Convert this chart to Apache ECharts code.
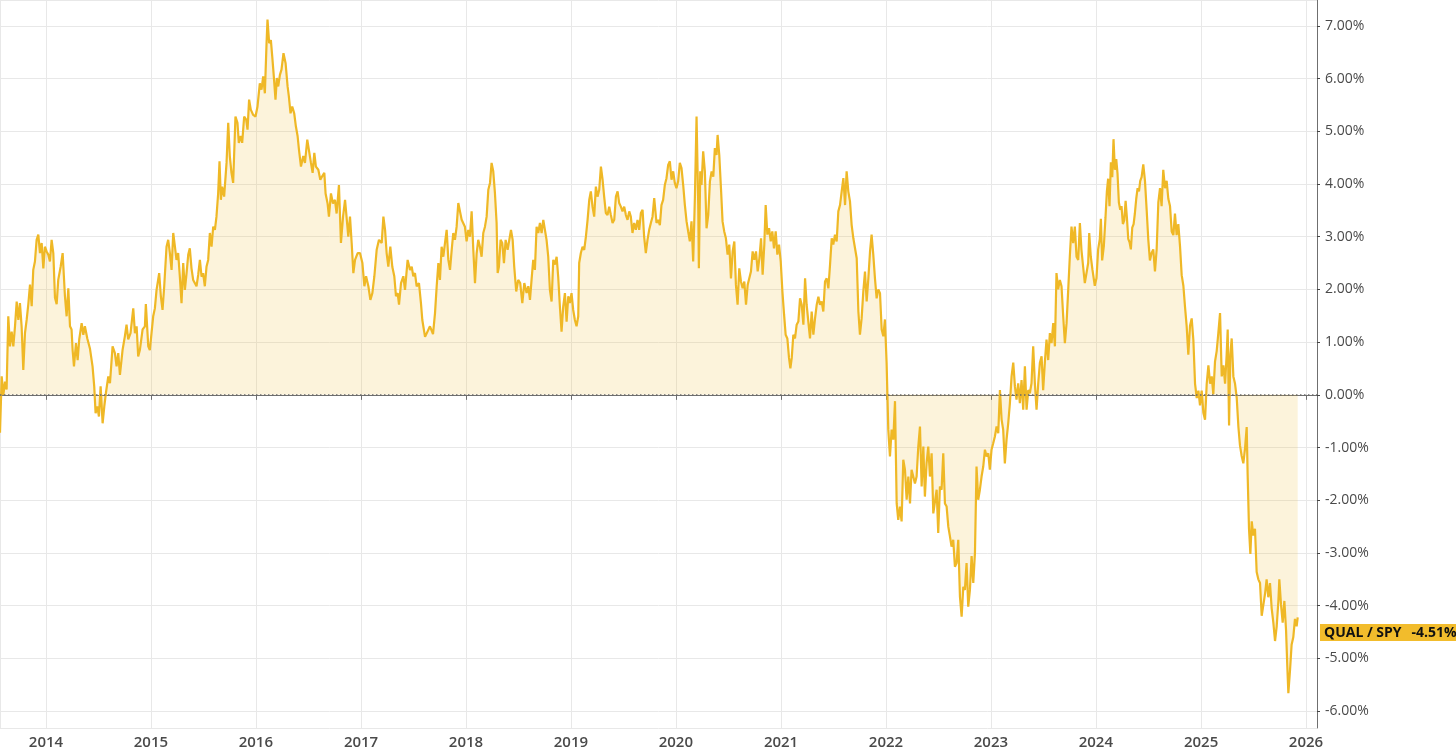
<!DOCTYPE html>
<html>
<head>
<meta charset="utf-8">
<script src="https://cdn.jsdelivr.net/npm/echarts@6/dist/echarts.min.js"></script>
<style>
html,body{margin:0;padding:0;background:#fff;}
#chart{width:1456px;height:753px;}
</style>
</head>
<body>
<div id="chart"></div>
<script>
// Visible time window (decimal years)
const xStartYear = 2013.562;
const xEndYear = 2026.105;
// Y axis range (percent)
const yMin = -6.32;
const yMax = 7.49;
const seriesName = 'QUAL / SPY';
const latestValue = -4.51;

// [decimal year, relative performance %]
const qualVsSpy = [
[2013.562,-0.72],[2013.578,0.35],[2013.594,0.00],[2013.610,0.25],[2013.625,0.10],[2013.641,1.49],[2013.657,0.92],[2013.673,1.20],[2013.689,0.92],[2013.705,1.30],[2013.721,1.77],[2013.737,1.42],[2013.752,1.74],[2013.768,1.30],[2013.784,0.47],[2013.800,1.17],[2013.816,1.42],[2013.832,1.72],[2013.848,2.09],[2013.864,1.68],[2013.879,2.37],[2013.895,2.53],[2013.911,2.94],[2013.927,3.04],[2013.943,2.69],[2013.959,2.88],[2013.975,2.40],[2013.990,2.81],
[2014.006,2.72],[2014.022,2.66],[2014.038,2.53],[2014.054,2.94],[2014.070,2.69],[2014.086,1.84],[2014.102,1.72],[2014.117,2.18],[2014.140,2.43],[2014.159,2.69],[2014.181,1.87],[2014.197,1.49],[2014.213,2.02],[2014.229,1.30],[2014.244,1.24],[2014.254,0.85],[2014.267,0.54],[2014.286,0.98],[2014.302,0.66],[2014.317,1.05],[2014.340,1.36],[2014.356,1.14],[2014.371,1.30],[2014.394,1.07],[2014.419,0.88],[2014.444,0.54],[2014.460,0.16],[2014.473,-0.35],[2014.489,-0.22],[2014.505,-0.41],[2014.521,0.16],[2014.540,-0.54],[2014.556,-0.22],[2014.571,0.03],[2014.594,0.35],[2014.610,0.22],[2014.635,0.92],[2014.657,0.79],[2014.673,0.54],[2014.689,0.79],[2014.705,0.38],[2014.730,0.85],[2014.752,1.11],[2014.768,1.33],[2014.784,1.05],[2014.806,1.17],[2014.832,1.64],[2014.848,1.17],[2014.864,1.30],[2014.879,0.73],[2014.895,0.85],[2014.921,1.24],[2014.943,1.30],[2014.952,1.72],[2014.975,0.92],[2014.990,0.85],
[2015.006,1.17],[2015.022,1.49],[2015.038,1.64],[2015.054,1.99],[2015.079,2.31],[2015.095,1.87],[2015.111,1.61],[2015.127,2.06],[2015.149,2.81],[2015.165,2.94],[2015.181,2.69],[2015.197,2.37],[2015.213,3.07],[2015.229,2.81],[2015.244,2.56],[2015.260,2.69],[2015.276,2.24],[2015.292,1.74],[2015.308,2.50],[2015.324,1.99],[2015.340,2.31],[2015.356,2.66],[2015.371,2.78],[2015.387,2.40],[2015.403,2.18],[2015.419,2.21],[2015.435,2.06],[2015.451,2.28],[2015.467,2.56],[2015.483,2.24],[2015.498,2.31],[2015.514,2.06],[2015.530,2.43],[2015.546,2.56],[2015.562,3.07],[2015.578,2.81],[2015.594,3.19],
[2015.610,3.13],[2015.625,3.38],[2015.641,3.82],[2015.654,4.43],[2015.667,3.70],[2015.679,3.95],[2015.698,3.76],[2015.721,4.40],[2015.737,5.16],[2015.752,4.53],[2015.768,4.21],[2015.784,4.02],[2015.806,5.28],[2015.825,5.16],[2015.838,4.78],[2015.857,4.91],[2015.870,4.78],[2015.889,5.28],[2015.908,5.22],[2015.921,5.03],[2015.936,5.60],[2015.952,5.41],[2015.975,5.31],[2015.997,5.28],
[2016.016,5.47],[2016.038,5.91],[2016.054,5.79],[2016.070,6.04],[2016.086,5.72],[2016.102,6.67],[2016.111,7.12],[2016.127,6.67],[2016.143,6.73],[2016.156,6.42],[2016.171,6.04],[2016.187,5.60],[2016.200,6.01],[2016.213,5.85],[2016.229,6.07],[2016.244,6.17],[2016.263,6.48],[2016.283,6.29],[2016.302,5.85],[2016.314,5.66],[2016.330,5.34],[2016.346,5.47],[2016.365,5.34],[2016.381,5.09],[2016.397,4.91],[2016.410,4.65],[2016.429,4.33],[2016.451,4.53],[2016.467,4.40],[2016.489,4.84],[2016.508,4.84],[2016.524,4.40],[2016.540,4.21],[2016.556,4.59],[2016.571,4.33],[2016.594,4.27],[2016.613,4.08],[2016.632,4.15],[2016.651,4.21],[2016.663,3.82],[2016.682,3.63],[2016.695,3.38],[2016.714,3.82],[2016.733,3.63],[2016.752,3.70],[2016.768,3.44],[2016.790,3.98],[2016.809,2.88],[2016.829,3.38],[2016.848,3.70],[2016.867,3.70],[2016.879,3.00],[2016.895,3.38],[2016.911,2.88],[2016.927,2.31],[2016.943,2.56],[2016.968,2.69],[2016.990,2.69],
[2017.013,2.50],[2017.032,2.06],[2017.048,2.25],[2017.070,2.06],[2017.089,1.80],[2017.108,1.93],[2017.127,2.25],[2017.149,2.75],[2017.171,2.94],[2017.197,2.88],[2017.213,3.38],[2017.229,3.13],[2017.244,2.69],[2017.260,2.43],[2017.279,2.81],[2017.298,2.43],[2017.317,2.25],[2017.333,1.87],[2017.349,1.93],[2017.362,1.71],[2017.381,2.12],[2017.403,2.25],[2017.419,1.99],[2017.444,2.56],[2017.467,2.37],[2017.483,2.43],[2017.498,2.25],[2017.514,2.31],[2017.530,2.06],[2017.552,2.12],[2017.571,1.74],[2017.584,1.42],[2017.610,1.10],[2017.657,1.30],[2017.686,1.15],
[2017.705,1.55],[2017.721,2.06],[2017.737,2.50],[2017.752,2.18],[2017.768,2.81],[2017.784,2.62],[2017.800,2.88],[2017.816,3.13],[2017.832,2.56],[2017.848,2.37],[2017.864,2.75],[2017.879,3.07],[2017.895,2.94],[2017.911,3.19],[2017.927,3.64],[2017.943,3.48],[2017.959,3.32],[2017.975,3.35],[2017.990,3.19],
[2018.006,2.91],[2018.022,3.13],[2018.038,3.00],[2018.054,3.48],[2018.070,2.75],[2018.086,2.12],[2018.102,2.69],[2018.117,2.94],[2018.133,2.81],[2018.149,2.62],[2018.165,3.07],[2018.181,3.19],[2018.197,3.38],[2018.213,3.89],[2018.229,4.02],[2018.244,4.40],[2018.260,4.24],[2018.276,3.83],[2018.292,3.26],[2018.302,2.31],[2018.314,2.43],[2018.330,2.94],[2018.346,2.88],[2018.362,2.50],[2018.378,2.94],[2018.397,2.75],[2018.413,2.94],[2018.429,3.13],[2018.445,2.94],[2018.460,2.43],[2018.479,1.96],[2018.498,2.18],[2018.517,2.12],[2018.537,1.74],[2018.556,2.12],[2018.578,1.93],[2018.594,2.06],[2018.610,1.80],[2018.625,2.18],[2018.641,2.56],[2018.657,2.37],[2018.673,3.19],[2018.689,3.07],[2018.705,3.26],[2018.721,3.07],[2018.737,3.32],[2018.752,3.32],[2018.768,2.94],[2018.784,2.62],[2018.800,1.99],[2018.816,1.77],[2018.832,2.56],[2018.848,2.47],[2018.864,2.62],[2018.879,2.24],[2018.895,1.68],[2018.911,1.20],[2018.927,1.68],[2018.943,1.93],[2018.959,1.39],[2018.975,1.87],[2018.990,1.74],
[2019.006,1.93],[2019.022,1.61],[2019.038,1.42],[2019.054,1.30],[2019.070,1.49],[2019.079,2.50],[2019.095,2.69],[2019.111,2.81],[2019.127,2.75],[2019.143,3.00],[2019.159,3.32],[2019.175,3.70],[2019.190,3.86],[2019.206,3.57],[2019.222,3.38],[2019.238,3.95],[2019.254,3.76],[2019.270,3.89],[2019.286,4.33],[2019.302,4.08],[2019.317,3.76],[2019.333,3.45],[2019.349,3.41],[2019.365,3.57],[2019.381,3.41],[2019.397,3.26],[2019.413,3.32],[2019.429,3.76],[2019.445,3.86],[2019.460,3.64],[2019.476,3.57],[2019.492,3.48],[2019.508,3.57],[2019.524,3.41],[2019.540,3.32],[2019.556,3.48],[2019.571,3.38],[2019.587,3.07],[2019.603,3.26],[2019.619,3.13],[2019.635,3.32],[2019.651,3.13],[2019.667,3.45],[2019.683,3.51],[2019.698,3.00],[2019.714,2.69],[2019.730,2.94],[2019.746,3.13],[2019.762,3.26],[2019.778,3.38],[2019.794,3.73],
[2019.816,3.26],[2019.832,3.32],[2019.848,3.22],[2019.863,3.60],[2019.879,3.70],[2019.895,3.98],[2019.911,4.11],[2019.927,4.36],[2019.943,4.43],[2019.959,4.08],[2019.975,4.24],[2019.990,4.02],
[2020.006,3.92],[2020.022,4.05],[2020.038,4.40],[2020.054,4.30],[2020.070,3.98],[2020.086,3.60],[2020.102,3.29],[2020.117,3.10],[2020.133,2.91],[2020.149,3.29],[2020.165,2.53],[2020.181,3.73],[2020.197,5.28],[2020.213,3.60],[2020.219,2.40],[2020.232,4.24],[2020.244,3.98],[2020.260,4.62],[2020.276,4.24],[2020.292,3.16],[2020.308,3.41],[2020.324,4.05],[2020.340,4.24],[2020.356,4.14],[2020.371,4.68],[2020.387,4.55],[2020.397,4.93],[2020.413,4.55],[2020.429,3.92],[2020.444,3.29],[2020.460,3.10],[2020.476,2.97],[2020.492,2.66],[2020.508,2.85],[2020.524,2.21],[2020.540,2.72],[2020.556,2.91],[2020.571,2.09],[2020.587,1.71],[2020.603,2.40],[2020.619,2.15],[2020.635,2.02],[2020.651,2.15],[2020.667,1.71],[2020.683,2.09],[2020.698,2.06],[2020.714,2.34],[2020.730,2.72],[2020.746,2.56],[2020.762,2.72],[2020.778,2.34],[2020.794,2.59],[2020.810,2.97],[2020.825,2.28],[2020.841,2.85],[2020.854,3.60],[2020.870,3.04],[2020.886,3.16],[2020.902,2.91],[2020.917,3.10],[2020.933,2.78],[2020.949,3.10],[2020.965,2.66],[2020.981,2.85],[2020.997,2.53],
[2021.013,1.96],[2021.029,1.52],[2021.044,1.14],[2021.060,1.07],[2021.076,0.70],[2021.089,0.50],[2021.102,0.70],[2021.117,1.14],[2021.133,1.07],[2021.149,1.33],[2021.165,1.39],[2021.181,1.83],[2021.197,1.71],[2021.213,1.33],[2021.229,2.21],[2021.244,1.71],[2021.260,1.39],[2021.276,1.07],[2021.292,1.58],[2021.308,1.14],[2021.324,1.45],[2021.340,1.71],[2021.356,1.86],[2021.371,1.71],[2021.387,1.77],[2021.403,1.58],[2021.419,2.15],[2021.435,2.21],[2021.451,2.02],[2021.467,2.47],[2021.483,2.97],[2021.498,2.85],[2021.514,3.04],[2021.530,2.91],[2021.546,3.48],[2021.562,3.60],[2021.578,3.86],[2021.594,4.11],[2021.610,3.60],[2021.625,4.24],[2021.641,3.86],[2021.657,3.67],[2021.673,3.22],[2021.689,2.97],[2021.705,2.78],[2021.721,2.59],[2021.737,1.58],[2021.752,1.14],[2021.768,1.45],[2021.784,1.96],[2021.800,2.34],[2021.816,1.77],[2021.832,2.21],[2021.848,2.72],[2021.863,3.04],[2021.879,2.66],[2021.895,2.21],[2021.911,1.83],[2021.927,2.00],
[2021.943,1.93],[2021.959,1.24],[2021.975,1.11],[2021.990,1.43],
[2022.006,0.61],[2022.022,-0.66],[2022.038,-1.17],[2022.054,-0.66],[2022.070,-0.85],[2022.086,-0.12],[2022.102,-2.06],[2022.117,-2.37],[2022.133,-2.12],[2022.149,-2.40],[2022.165,-1.23],[2022.181,-1.42],[2022.197,-1.99],[2022.213,-1.55],[2022.229,-2.06],[2022.244,-1.42],[2022.260,-1.55],[2022.276,-1.68],[2022.292,-1.55],[2022.308,-0.98],[2022.324,-0.60],[2022.340,-1.74],[2022.356,-0.98],[2022.371,-1.93],[2022.387,-1.30],[2022.403,-0.98],[2022.419,-1.55],[2022.435,-1.11],[2022.451,-2.25],[2022.467,-2.25],[2022.483,-1.80],[2022.498,-2.62],[2022.514,-1.74],[2022.530,-1.80],[2022.546,-1.11],[2022.562,-2.06],[2022.578,-2.12],[2022.594,-2.50],[2022.610,-2.69],[2022.625,-2.88],[2022.641,-2.75],[2022.657,-3.26],[2022.673,-3.19],[2022.689,-2.75],[2022.705,-3.83],[2022.721,-4.21],[2022.737,-3.64],[2022.752,-3.70],[2022.768,-3.19],[2022.784,-4.02],[2022.800,-3.70],[2022.816,-3.06],[2022.832,-3.57],[2022.848,-3.00],[2022.863,-1.36],[2022.879,-1.99],[2022.895,-1.80],[2022.911,-1.55],[2022.927,-1.36],[2022.943,-1.04],[2022.959,-1.17],[2022.975,-1.11],[2022.990,-1.42],
[2023.006,-1.04],[2023.022,-0.92],[2023.038,-0.79],[2023.054,-0.60],[2023.070,-0.73],[2023.086,0.09],[2023.102,-0.47],[2023.117,-0.66],[2023.133,-1.30],[2023.149,-0.85],[2023.165,-0.54],[2023.181,-0.16],[2023.197,0.35],[2023.213,0.61],[2023.229,0.16],[2023.244,-0.09],[2023.260,0.22],[2023.276,-0.16],[2023.292,0.28],[2023.308,-0.28],[2023.324,0.54],[2023.340,-0.28],[2023.356,0.09],[2023.371,0.03],[2023.387,0.22],[2023.403,0.92],[2023.419,0.22],[2023.435,-0.28],[2023.451,0.22],[2023.467,0.61],[2023.483,0.73],[2023.498,0.09],[2023.514,0.61],[2023.530,1.05],[2023.546,0.66],[2023.562,1.17],[2023.578,0.98],[2023.594,1.36],[2023.610,0.92],[2023.625,2.31],[2023.641,2.00],[2023.657,2.18],[2023.673,2.06],[2023.689,1.49],[2023.705,0.98],[2023.721,1.36],[2023.737,2.00],[2023.752,2.62],[2023.768,3.19],[2023.784,2.88],[2023.800,3.19],[2023.816,2.62],[2023.832,2.56],[2023.848,3.26],[2023.863,2.75],[2023.879,2.43],[2023.895,2.12],[2023.911,2.12],[2023.927,2.50],[2023.937,3.07],[2023.952,2.62],[2023.968,2.37],
[2023.990,2.07],[2024.006,2.21],[2024.022,2.76],[2024.038,2.96],[2024.048,3.34],[2024.060,2.55],[2024.076,2.82],[2024.092,3.37],[2024.105,3.86],[2024.117,4.10],[2024.130,3.58],[2024.143,4.41],[2024.156,4.13],[2024.168,4.85],[2024.181,4.27],[2024.194,4.47],[2024.206,4.20],[2024.219,3.65],[2024.232,3.51],[2024.244,3.58],[2024.257,3.24],[2024.270,3.31],[2024.283,3.68],[2024.295,3.37],[2024.308,2.96],[2024.321,2.89],[2024.333,2.76],[2024.346,3.17],[2024.359,3.24],[2024.371,3.44],[2024.384,3.72],[2024.397,3.92],[2024.410,3.86],[2024.422,4.06],[2024.435,4.13],[2024.451,4.37],[2024.467,4.06],[2024.483,3.51],[2024.498,2.96],[2024.514,2.55],[2024.530,2.69],[2024.546,2.76],[2024.562,2.34],[2024.578,2.76],[2024.594,3.65],[2024.610,3.92],[2024.625,3.58],[2024.641,4.27],[2024.657,3.92],[2024.673,4.06],[2024.689,3.72],[2024.705,3.58],[2024.721,3.10],[2024.737,3.03],[2024.752,3.44],[2024.768,3.03],[2024.784,3.24],[2024.800,2.82],[2024.816,2.27],[2024.832,2.07],[2024.848,1.66],[2024.863,1.31],[2024.879,0.76],[2024.895,1.31],[2024.911,1.45],[2024.927,1.04],[2024.943,0.21],[2024.959,-0.06],[2024.975,0.08],[2024.990,-0.20],
[2025.006,0.08],[2025.022,-0.34],[2025.038,-0.47],[2025.054,0.21],[2025.070,0.56],[2025.086,0.21],[2025.102,0.35],[2025.117,0.01],[2025.133,0.63],[2025.149,0.83],[2025.165,1.18],[2025.181,1.55],[2025.197,0.35],[2025.213,0.56],[2025.229,0.21],[2025.244,0.76],[2025.254,1.24],[2025.267,-0.58],[2025.279,0.76],[2025.292,1.07],[2025.308,0.35],[2025.324,0.21],[2025.340,-0.06],[2025.356,-0.61],[2025.371,-0.96],[2025.387,-1.16],[2025.403,-1.30],[2025.419,-1.02],[2025.435,-0.61],[2025.444,-1.51],[2025.457,-2.54],[2025.470,-3.02],[2025.483,-2.40],[2025.498,-2.67],[2025.514,-2.54],[2025.530,-3.36],[2025.546,-3.50],[2025.562,-3.57],[2025.578,-4.19],[2025.594,-4.19],[2025.610,-3.77],[2025.625,-3.50],[2025.641,-3.84],[2025.657,-3.57],[2025.673,-4.05],[2025.689,-4.32],[2025.705,-4.67],[2025.721,-4.39],[2025.737,-3.91],[2025.746,-3.50],[2025.762,-3.98],[2025.778,-4.32],[2025.794,-3.91],[2025.810,-4.46],[2025.822,-5.15],[2025.832,-5.66],[2025.848,-5.22],[2025.863,-4.74],[2025.879,-4.60],[2025.895,-4.25],[2025.911,-4.39],[2025.921,-4.22]
];

function toTime(y) {
  const yr = Math.floor(y);
  const a = new Date(yr, 0, 1).getTime();
  const b = new Date(yr + 1, 0, 1).getTime();
  return a + (y - yr) * (b - a);
}

const lineData = qualVsSpy.map(p => [toTime(p[0]), p[1]]);

const chart = echarts.init(document.getElementById('chart'), null, {renderer: 'canvas'});
const YEAR = 365 * 24 * 3600 * 1000;
chart.setOption({
  animation: false,
  backgroundColor: '#ffffff',
  grid: {left: 0, right: 139, top: 0, bottom: 25, containLabel: false},
  xAxis: {
    type: 'time',
    min: toTime(xStartYear),
    max: toTime(xEndYear),
    minInterval: YEAR,
    maxInterval: YEAR + 2 * 24 * 3600 * 1000,
    splitNumber: 13,
    axisLine: {show: true, lineStyle: {color: '#6f6f6f', width: 1}},
    axisTick: {show: true, length: 5, lineStyle: {color: '#6f6f6f'}},
    axisLabel: {
      formatter: v => String(new Date(v).getFullYear()),
      color: '#4a4a4a', fontSize: 15, fontWeight: 600,
      fontFamily: 'Open Sans, sans-serif', margin: 7, hideOverlap: false
    },
    splitLine: {show: true, lineStyle: {color: '#e8e8e8', width: 1}}
  },
  yAxis: {
    type: 'value',
    position: 'right',
    min: yMin,
    max: yMax,
    splitNumber: 14,
    axisLine: {show: true, lineStyle: {color: '#6f6f6f', width: 1}},
    axisTick: {show: true, length: 3, lineStyle: {color: '#444'}},
    axisLabel: {
      formatter: v => v.toFixed(2) + '%',
      showMinLabel: false, showMaxLabel: false,
      color: '#4a4a4a', fontSize: 14, fontFamily: 'Open Sans, sans-serif', margin: 8
    },
    splitLine: {show: true, lineStyle: {color: '#e8e8e8', width: 1}}
  },
  series: [{
    name: seriesName,
    type: 'line',
    data: lineData,
    showSymbol: false,
    symbol: 'none',
    clip: true,
    lineStyle: {color: '#efb826', width: 2.2},
    itemStyle: {color: '#efb826'},
    areaStyle: {color: 'rgba(240,185,40,0.24)', origin: 0},
    z: 3,
    markLine: {
      silent: true,
      symbol: 'none',
      animation: false,
      data: [
        {yAxis: 0, lineStyle: {type: [1.5, 2.5], color: '#6a6a6a', width: 1.5}, label: {show: false}},
        {yAxis: latestValue, lineStyle: {color: 'rgba(0,0,0,0)', width: 0},
         label: {
           show: true, position: 'end', distance: 3,
           formatter: '{n|' + seriesName + '}{v|' + latestValue.toFixed(2) + '%}',
           backgroundColor: '#f2bc2c', padding: [2, 3, 1, 4],
           rich: {
             n: {fontSize: 14, fontWeight: 'bold', color: '#111', fontFamily: 'Open Sans, sans-serif'},
             v: {fontSize: 14, fontWeight: 'bold', color: '#111', fontFamily: 'Open Sans, sans-serif', padding: [0, 0, 0, 10]}
           }
         }}
      ]
    }
  }]
});
</script>
</body>
</html>
